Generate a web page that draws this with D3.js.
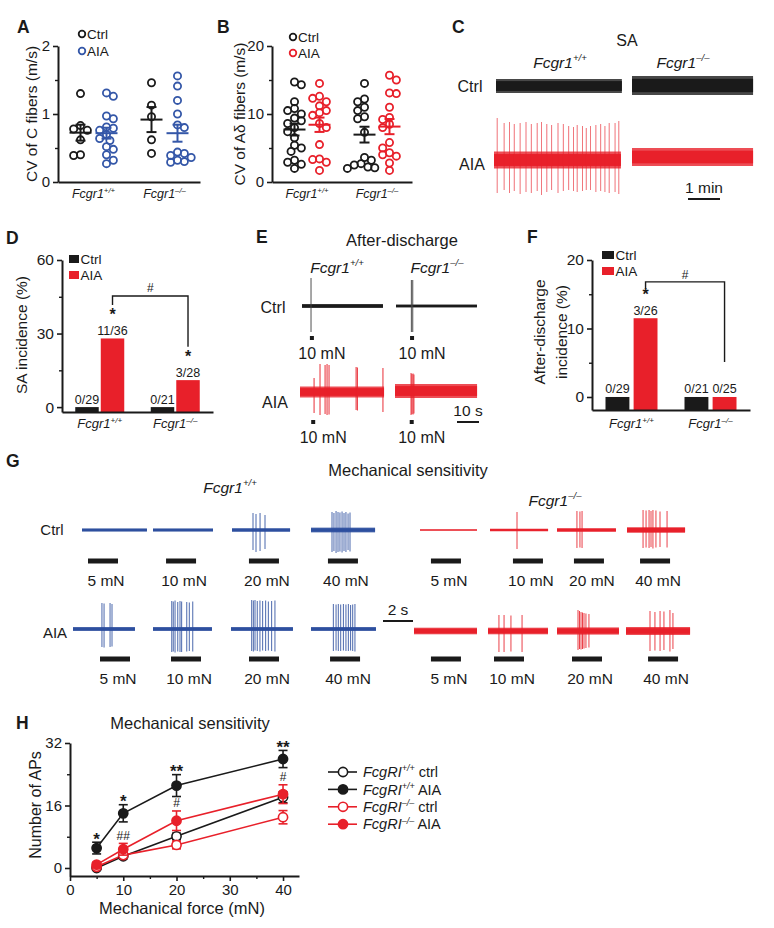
<!DOCTYPE html>
<html>
<head>
<meta charset="utf-8">
<script src="https://cdn.jsdelivr.net/npm/d3@7/dist/d3.min.js"></script>
<style>
html,body{margin:0;padding:0;background:#fff;}
svg{display:block;}
</style>
</head>
<body>
<svg id="fig" width="774" height="928"></svg>
<script>
// ======================= DATA =======================
const genotypes = ["wt", "ko"];
const geneName = "Fcgr1";
const genoSup = ["+/+", "\u2013/\u2013"];
const conditions = ["Ctrl", "AIA"];

// A: CV of C fibers (m/s)
const cvC_wt_ctrl = [1.30, 0.83, 0.78, 0.76, 0.62, 0.39, 0.40];
const cvC_wt_aia  = [1.31, 1.26, 0.97, 0.93, 0.81, 0.79, 0.76, 0.70, 0.64, 0.61, 0.52, 0.48, 0.40, 0.32, 0.27];
const cvC_ko_ctrl = [1.46, 1.13, 0.96, 0.62, 0.42];
const cvC_ko_aia  = [1.56, 1.41, 1.20, 1.00, 0.84, 0.80, 0.44, 0.42, 0.39, 0.36, 0.32, 0.30, 0.29];
const cvC_ticks = [0, 1, 2];
const cvC_minor = [0.5, 1.5];

// B: CV of A-delta fibers (m/s)
const cvAd_wt_ctrl = [14.7, 14.3, 11.8, 10.8, 10.5, 10.0, 9.4, 9.0, 8.6, 8.0, 7.4, 6.5, 5.4, 5.0, 4.5, 3.2, 2.9, 2.6, 2.0];
const cvAd_wt_aia  = [14.5, 12.6, 12.3, 11.8, 11.2, 10.5, 10.2, 9.8, 8.6, 8.0, 5.5, 3.4, 3.3, 2.9, 1.7];
const cvAd_ko_ctrl = [14.5, 12.2, 11.8, 11.0, 10.5, 9.6, 9.3, 7.3, 3.6, 3.2, 2.7, 2.5, 2.2, 2.0, 2.1];
const cvAd_ko_aia  = [15.7, 15.0, 13.1, 13.0, 11.0, 9.5, 9.2, 8.5, 8.0, 5.8, 5.0, 4.3, 4.0, 3.8, 2.8, 1.7];
const cvAd_ticks = [0, 10, 20];
const cvAd_minor = [5, 15];

// D: SA incidence (%)  order: wt Ctrl, wt AIA, ko Ctrl, ko AIA
const saIncidence = [0, 28, 0, 11];
const saCounts = ["0/29", "11/36", "0/21", "3/28"];
const saSig = ["", "*", "", "*"];
const saTicks = [0, 30, 60];
const saMinor = [15, 45];

// F: After-discharge incidence (%)
const adIncidence = [0, 11.5, 0, 0];
const adCounts = ["0/29", "3/26", "0/21", "0/25"];
const adSig = ["", "*", "", ""];
const adTicks = [0, 10, 20];
const adMinor = [5, 15];

// C: spontaneous activity traces (time s; amplitudes in uV: [t, up, down])
const cDur = [236, 227, 238, 227];           // wt ctrl, ko ctrl, wt aia, ko aia
const cNoise = [70, 95, 85, 90];
const cSpikes_wt_aia = [[6,420,330],[19,370,300],[29,380,330],[38,360,310],[49,370,340],[60,380,320],[70,360,330],[81,370,310],[89,380,350],[99,360,320],[108,350,300],[120,370,330],[130,360,310],[140,340,300],[149,330,310],[156,350,320],[166,340,310],[173,320,300],[181,340,300],[191,350,320],[200,360,310],[208,340,320],[216,370,330],[227,370,320],[234,390,340]];
const cScaleSec = 60;

// E: after-discharge traces
const eDur = [36.8, 36.8, 38.2, 37.3];
const eNoise = [20, 15, 55, 70];
const eStim = [4.5, 7.3, 6.0, 7.6];
const eSpikes_wt_ctrl = [[4.1, 280, 260]];
const eSpikes_ko_ctrl = [[7.0, 260, 260], [7.6, 260, 260]];
const eSpikes_wt_aia = [[6.4,140,210],[9.1,280,230],[11.4,270,220],[12.3,280,230],[13.2,270,225],[25.5,250,180],[26.1,245,185],[37.7,240,200]];
const eSpikes_ko_aia = [[7.3,180,240],[7.7,170,230],[8.2,175,235],[8.6,165,225]];
const eForce = 10;
const eScaleSec = 10;

// G: mechanical sensitivity sweeps
const mechForces = [5, 10, 20, 40];
const mechStimDur = 2;
const mechScaleSec = 2;
const mechOnset_wt_ctrl = [0.4, 0.87, 1.13, 1.13];
const mechOnset_ko_ctrl = [0.73, 1.53, 1.13, 0.87];
const mechOnset_wt_aia  = [1.8, 1.2, 1.2, 1.27];
const mechOnset_ko_aia  = [1.13, 0.4, 1.0, 1.47];
const mechDur_wt_ctrl = [4.33, 4.0, 3.87, 4.27];
const mechDur_ko_ctrl = [3.8, 3.87, 3.93, 3.87];
const mechDur_wt_aia  = [4.13, 3.93, 4.13, 4.33];
const mechDur_ko_aia  = [4.2, 4.0, 4.13, 4.27];
const mechNoise_wt_ctrl = [16, 16, 18, 24];
const mechNoise_ko_ctrl = [7, 13, 18, 28];
const mechNoise_wt_aia  = [20, 20, 20, 20];
const mechNoise_ko_aia  = [33, 33, 36, 40];
const mechSpikes_wt_ctrl = [[], [],
  [[1.4,170,200],[1.6,160,220],[1.87,170,210],[2.2,150,190]],
  [[1.4,180,220],[1.53,170,210],[1.67,190,230],[1.8,180,220],[1.93,175,215],[2.07,185,225],[2.2,170,210],[2.33,180,220],[2.47,165,200],[2.6,175,215]]];
const mechSpikes_ko_ctrl = [[],
  [[1.8,180,190]],
  [[1.33,190,180],[1.53,185,175],[1.67,190,180]],
  [[1.07,200,180],[1.27,195,175],[1.47,200,180],[1.6,190,170],[1.73,200,185],[1.93,195,175],[2.2,185,170],[2.67,190,175]]];
const mechSpikes_wt_aia = [
  [[1.93,260,180],[2.07,255,185],[2.47,260,180],[2.6,250,175]],
  [[1.25,280,230],[1.35,275,225],[1.47,285,235],[1.65,270,225],[1.8,280,230],[1.91,275,230],[2.25,270,225],[2.42,265,220],[2.65,275,225]],
  [[1.38,290,220],[1.49,285,225],[1.6,290,215],[1.75,280,220],[1.93,285,225],[2.11,280,215],[2.31,285,220],[2.49,275,215],[2.71,280,220],[2.93,285,225]],
  [[1.49,250,220],[1.67,245,215],[1.82,250,220],[1.98,245,220],[2.16,250,215],[2.33,245,220],[2.49,250,220],[2.64,240,215],[2.78,245,220],[2.93,250,225]]];
const mechSpikes_ko_aia = [[],
  [[0.73,160,210],[1.07,160,210],[1.53,155,205],[2.27,160,210]],
  [[1.4,210,190],[1.5,200,180],[1.6,190,185],[1.7,185,180],[1.8,180,175],[1.93,175,170],[2.13,170,165]],
  [[1.6,200,200],[1.93,190,195],[2.27,200,200],[2.53,195,190],[2.93,210,205],[3.13,180,180]]];

// H: number of APs vs force
const hForce = [5, 10, 20, 40];
const hWtCtrl = [0.0, 3.0, 8.1, 18.1], hWtCtrlErr = [0.3, 0.6, 0.8, 1.4];
const hWtAia  = [5.1, 14.0, 21.1, 27.9], hWtAiaErr = [1.5, 2.2, 2.8, 2.2];
const hKoCtrl = [0.3, 3.3, 5.9, 13.0], hKoCtrlErr = [0.4, 0.8, 1.0, 1.7];
const hKoAia  = [0.85, 4.8, 12.1, 18.9], hKoAiaErr = [0.6, 1.5, 2.5, 2.4];
const hSigStar = ["*", "*", "**", "**"];
const hSigHash = ["", "##", "#", "#"];
const hTicksY = [0, 16, 32], hMinorY = [8, 24];
const hTicksX = [0, 10, 20, 30, 40], hMinorX = [5, 15, 25, 35];

// ======================= DRAWING =======================
const FONT = '"Liberation Sans", Arial, Helvetica, sans-serif';
const INK = "#1a1a1a", RED = "#e8202a", BLUE = "#3457a8", BLUE_TR = "#2d4f9f";
const svg = d3.select("#fig").attr("font-family", FONT);

function txt(g, x, y, s, o = {}) {
  const t = g.append("text").attr("x", x).attr("y", y).text(s)
    .attr("font-size", o.size || 15)
    .attr("text-anchor", o.anchor || "middle")
    .attr("fill", o.fill || INK);
  if (o.weight) t.attr("font-weight", o.weight);
  if (o.italic) t.attr("font-style", "italic");
  return t;
}
function geneTxt(g, x, y, base, sup, size, anchor = "middle", tail = "") {
  const t = g.append("text").attr("x", x).attr("y", y).attr("font-size", size)
    .attr("text-anchor", anchor).attr("fill", INK);
  t.append("tspan").attr("font-style", "italic").text(base);
  t.append("tspan").attr("font-style", "italic").attr("font-size", size * 0.62)
    .attr("dy", -size * 0.4).text(sup);
  if (tail) t.append("tspan").attr("dy", size * 0.4).text(tail);
  return t;
}
function vtxt(g, cx, cy, s, size) {
  return g.append("text").attr("transform", `translate(${cx},${cy}) rotate(-90)`)
    .attr("text-anchor", "middle").attr("dy", "0.35em").attr("font-size", size)
    .attr("fill", INK).text(s);
}
function styleAxis(a, size) {
  a.attr("font-family", FONT).attr("font-size", size).attr("color", INK);
  a.select(".domain").attr("stroke-width", 2);
  a.selectAll(".tick line").attr("stroke-width", 1.6);
  a.selectAll(".tick text").attr("fill", INK);
}
function leftAxis(g, y, x, ticks, minor, size = 15) {
  const a = g.append("g").attr("transform", `translate(${x},0)`)
    .call(d3.axisLeft(y).tickValues(ticks).tickSize(5).tickSizeOuter(0).tickPadding(3).tickFormat(d3.format("d")));
  styleAxis(a, size);
  const m = g.append("g").attr("transform", `translate(${x},0)`)
    .call(d3.axisLeft(y).tickValues(minor).tickSize(3).tickFormat(""));
  m.select(".domain").remove();
  m.attr("color", INK).selectAll(".tick line").attr("stroke-width", 1.4);
}
function baseLine(g, x, y) {
  const a = g.append("g").attr("transform", `translate(0,${y})`)
    .call(d3.axisBottom(x).tickValues([]).tickSizeOuter(0));
  styleAxis(a, 12);
}
function panelLetter(x, y, s) { txt(svg, x, y, s, {size: 17.5, weight: "bold", anchor: "start"}); }

// ---- beeswarm layout ----
function swarm(vals, y, r) {
  const pts = vals.map(v => ({v, y: y(v), dx: 0})).sort((a, b) => a.y - b.y);
  const placed = [], step = r * 0.95, minD = 2 * r * 0.9;
  pts.forEach((p, i) => {
    for (let k = 0; k < 14; k++) {
      const cands = k === 0 ? [0] : (i % 2 ? [k * step, -k * step] : [-k * step, k * step]);
      const ok = cands.find(dx => placed.every(q => Math.hypot(q.dx - dx, q.y - p.y) >= minD));
      if (ok !== undefined) { p.dx = ok; break; }
    }
    placed.push(p);
  });
  return pts;
}
function dotPlot(g, vals, cx, y, color, r) {
  const pts = swarm(vals, y, r);
  g.append("g").selectAll("circle").data(pts).join("circle")
    .attr("cx", d => cx + d.dx).attr("cy", d => d.y).attr("r", r)
    .attr("fill", "none").attr("stroke", color).attr("stroke-width", 1.8);
  const m = d3.mean(vals), se = d3.deviation(vals) / Math.sqrt(vals.length);
  const s = g.append("g").attr("stroke", color).attr("stroke-width", 2);
  s.append("line").attr("x1", cx - 11).attr("x2", cx + 11).attr("y1", y(m)).attr("y2", y(m));
  s.append("line").attr("x1", cx).attr("x2", cx).attr("y1", y(m - se)).attr("y2", y(m + se));
  [m - se, m + se].forEach(v => s.append("line").attr("x1", cx - 5).attr("x2", cx + 5).attr("y1", y(v)).attr("y2", y(v)));
}

function scatterPanel(o) {
  const g = svg.append("g");
  const y = d3.scaleLinear().domain(o.domain).range([o.y0, o.y1]);
  const xg = d3.scaleBand().domain(genotypes).range([o.x0, o.x1]);
  const xc = d3.scalePoint().domain(conditions).range([-o.off, o.off]);
  const groups = [[o.data[0], o.data[1]], [o.data[2], o.data[3]]];
  genotypes.forEach((gk, i) => {
    const cx = xg(gk) + xg.bandwidth() / 2;
    conditions.forEach((c, j) => dotPlot(g, groups[i][j], cx + xc(c), y, j ? o.aiaColor : INK, 3.6));
    geneTxt(g, cx, o.catY, geneName, genoSup[i], 12.5);
  });
  leftAxis(g, y, o.x0, o.ticks, o.minor, 15);
  baseLine(g, xg, o.y0);
  vtxt(g, o.titleX, (o.y0 + o.y1) / 2, o.title, 15.5);
  conditions.forEach((c, j) => {
    g.append("circle").attr("cx", o.legX).attr("cy", o.legY[j]).attr("r", 3.3)
      .attr("fill", "none").attr("stroke", j ? o.aiaColor : INK).attr("stroke-width", 1.8);
    txt(g, o.legX + 5, o.legY[j] + 5, c, {size: 13.5, anchor: "start"});
  });
}

scatterPanel({domain: [0, 2], y0: 182, y1: 46, x0: 58, x1: 200, off: 13,
  data: [cvC_wt_ctrl, cvC_wt_aia, cvC_ko_ctrl, cvC_ko_aia], ticks: cvC_ticks, minor: cvC_minor,
  aiaColor: BLUE, catY: 198, title: "CV of C fibers (m/s)", titleX: 32, legX: 82, legY: [34, 51]});
scatterPanel({domain: [0, 20], y0: 182, y1: 46, x0: 272, x1: 412, off: 12.5,
  data: [cvAd_wt_ctrl, cvAd_wt_aia, cvAd_ko_ctrl, cvAd_ko_aia], ticks: cvAd_ticks, minor: cvAd_minor,
  aiaColor: RED, catY: 198, title: "CV of A\u03b4 fibers (m/s)", titleX: 240, legX: 293, legY: [37, 53]});

// ---- bar panels ----
function barPanel(o) {
  const g = svg.append("g");
  const y = d3.scaleLinear().domain([o.yMin, o.yMax]).range([o.y0, o.y1]);
  const xg = d3.scaleBand().domain(genotypes).range([o.x0, o.x1]);
  const xc = d3.scaleBand().domain(conditions).range([-o.gw / 2, o.gw / 2]).paddingInner(o.pad);
  const rows = [];
  genotypes.forEach((gk, i) => conditions.forEach((c, j) => {
    const k = i * 2 + j;
    rows.push({gk, c, v: o.values[k], n: o.counts[k], sig: o.sig[k], cx: xg(gk) + xg.bandwidth() / 2});
  }));
  g.append("g").selectAll("rect").data(rows).join("rect")
    .attr("x", d => d.cx + xc(d.c)).attr("width", xc.bandwidth())
    .attr("y", d => y(d.v)).attr("height", d => y(o.yMin) - y(d.v))
    .attr("fill", d => d.c === "Ctrl" ? INK : RED);
  rows.forEach(d => {
    d.bx = d.cx + xc(d.c) + xc.bandwidth() / 2;
    d.lab = y(d.v) - 3.5;
    txt(g, d.bx, d.lab, d.n, {size: 12.5});
    if (d.sig) { d.star = d.lab - 20; txt(g, d.bx, d.lab - 15, d.sig, {size: 16, weight: "bold"}); }
  });
  const L = rows[1], R = rows[3], by = y(o.bracketLevel);
  const rEnd = R.star !== undefined ? R.star - 10 : y(o.bracketRightEnd);
  g.append("path").attr("fill", "none").attr("stroke", INK).attr("stroke-width", 1.4)
    .attr("d", `M${L.bx},${L.star - o.legGap}V${by}H${R.bx}V${rEnd}`);
  txt(g, (L.bx + R.bx) / 2, by - o.hashUp + 4.3, "#", {size: 12});
  genotypes.forEach((gk, i) => geneTxt(g, xg(gk) + xg.bandwidth() / 2, o.catY, geneName, genoSup[i], 13));
  leftAxis(g, y, o.x0, o.ticks, o.minor, 15.5);
  baseLine(g, xg, o.y0);
  vtxt(g, o.titleX, o.titleY, o.title, 15.5);
  if (o.title2) vtxt(g, o.titleX2, o.titleY, o.title2, 15.5);
  conditions.forEach((c, j) => {
    g.append("rect").attr("x", o.legX).attr("y", o.legY[j]).attr("width", o.legW).attr("height", 8)
      .attr("fill", j ? RED : INK);
    txt(g, o.legX + o.legW + 1.5, o.legY[j] + 8.5, c, {size: 13.5, anchor: "start"});
  });
}
barPanel({yMin: -2, yMax: 60, y0: 412, y1: 260, x0: 62, x1: 213, gw: 49, pad: 0.08,
  values: saIncidence, counts: saCounts, sig: saSig, ticks: saTicks, minor: saMinor,
  bracketLevel: 45.3, legGap: 10, hashUp: 8, catY: 428,
  title: "SA incidence (%)", titleX: 22, titleY: 335, legX: 69, legY: [255, 271], legW: 10});
barPanel({yMin: -1.9, yMax: 20, y0: 410, y1: 260, x0: 592, x1: 750, gw: 52, pad: 0.15,
  values: adIncidence, counts: adCounts, sig: adSig, ticks: adTicks, minor: adMinor,
  bracketLevel: 16.8, bracketRightEnd: 5.1, legGap: 6, hashUp: 7, catY: 428,
  title: "After-discharge", title2: "incidence (%)", titleX: 540, titleX2: 562, titleY: 332,
  legX: 602, legY: [251, 267], legW: 12});

// ---- electrophysiology traces ----
function trace(g, o) {
  const x = d3.scaleLinear().domain([0, o.dur]).range([o.x0, o.x0 + o.dur * o.pps]);
  const y = d3.scaleLinear().domain([-100, 100]).range([o.y0 + 10, o.y0 - 10]); // 10 uV per px
  g.append("rect").attr("x", x(0)).attr("width", x(o.dur) - x(0))
    .attr("y", y(o.noise)).attr("height", Math.max(1, y(-o.noise) - y(o.noise)))
    .attr("fill", o.color).attr("opacity", 0.8);
  g.append("rect").attr("x", x(0)).attr("width", x(o.dur) - x(0))
    .attr("y", y(o.noise * 0.7)).attr("height", Math.max(1, y(-o.noise * 0.7) - y(o.noise * 0.7)))
    .attr("fill", o.color);
  g.append("g").selectAll("line").data(o.spikes || []).join("line")
    .attr("x1", d => x(d[0])).attr("x2", d => x(d[0]))
    .attr("y1", d => y(d[1])).attr("y2", d => y(-d[2]))
    .attr("stroke", o.spikeColor || o.color).attr("stroke-width", o.spikeW || 1)
    .attr("opacity", o.spikeOpacity === undefined ? 0.9 : o.spikeOpacity);
  return x;
}
function scaleBar(g, x0, y, sec, pps, label) {
  const x = d3.scaleLinear().domain([0, sec]).range([x0, x0 + sec * pps]);
  g.append("line").attr("x1", x(0)).attr("x2", x(sec)).attr("y1", y).attr("y2", y)
    .attr("stroke", INK).attr("stroke-width", 2);
  txt(g, (x(0) + x(sec)) / 2, y - 6, label, {size: 15.5});
}

// Panel C
{
  const g = svg.append("g");
  const pps = 32 / 60;
  txt(g, 627, 46, "SA", {size: 16});
  geneTxt(g, 560, 67.5, geneName, genoSup[0], 15.5);
  geneTxt(g, 683, 67.5, geneName, genoSup[1], 15.5);
  txt(g, 470, 91.6, "Ctrl", {size: 16});
  txt(g, 472, 169.6, "AIA", {size: 16});
  trace(g, {x0: 496, y0: 86, dur: cDur[0], pps, noise: cNoise[0], color: INK});
  trace(g, {x0: 632, y0: 85.5, dur: cDur[1], pps, noise: cNoise[1], color: INK});
  trace(g, {x0: 494, y0: 160, dur: cDur[2], pps, noise: cNoise[2], color: RED,
    spikes: cSpikes_wt_aia, spikeW: 0.9, spikeOpacity: 0.7});
  trace(g, {x0: 632, y0: 157, dur: cDur[3], pps, noise: cNoise[3], color: RED});
  scaleBar(g, 688, 199, cScaleSec, pps, "1 min");
}

// Panel E
{
  const g = svg.append("g");
  const pps = 2.2;
  txt(g, 402, 246, "After-discharge", {size: 16.5});
  geneTxt(g, 337, 272.5, geneName, genoSup[0], 15.5);
  geneTxt(g, 437, 272.5, geneName, genoSup[1], 15.5);
  txt(g, 273, 312.6, "Ctrl", {size: 16});
  txt(g, 275, 407.6, "AIA", {size: 16});
  const cfg = [
    {x0: 302, y0: 306, sp: eSpikes_wt_ctrl, color: INK, sc: "#444", my: 338},
    {x0: 396, y0: 306, sp: eSpikes_ko_ctrl, color: INK, sc: "#444", my: 338},
    {x0: 300, y0: 392, sp: eSpikes_wt_aia, color: RED, sc: RED, my: 422},
    {x0: 395, y0: 391, sp: eSpikes_ko_aia, color: RED, sc: RED, my: 422}];
  cfg.forEach((c, i) => {
    const x = trace(g, {x0: c.x0, y0: c.y0, dur: eDur[i], pps, noise: eNoise[i], color: c.color,
      spikes: c.sp, spikeColor: c.sc, spikeW: 1.1, spikeOpacity: 0.85});
    g.append("rect").attr("x", x(eStim[i]) - 2).attr("y", c.my - 2).attr("width", 4).attr("height", 4).attr("fill", INK);
    txt(g, x(eStim[i]) + 10, c.my + 20.5, `${eForce} mN`, {size: 16});
  });
  scaleBar(g, 457, 422, eScaleSec, pps, "10 s");
}

// Panel G
{
  const g = svg.append("g");
  const pps = 15;
  txt(g, 408, 476, "Mechanical sensitivity", {size: 16.5});
  geneTxt(g, 230, 492.5, geneName, genoSup[0], 15.5);
  geneTxt(g, 555, 505.5, geneName, genoSup[1], 15.5);
  txt(g, 52, 535.3, "Ctrl", {size: 15});
  txt(g, 55, 638.3, "AIA", {size: 15});
  const rows = [
    {y: 530, barY: 561, starts: [82, 153, 232, 311], on: mechOnset_wt_ctrl, dur: mechDur_wt_ctrl, noise: mechNoise_wt_ctrl, sp: mechSpikes_wt_ctrl, color: BLUE_TR},
    {y: 530, barY: 561, starts: [420, 490, 557, 627], on: mechOnset_ko_ctrl, dur: mechDur_ko_ctrl, noise: mechNoise_ko_ctrl, sp: mechSpikes_ko_ctrl, color: RED},
    {y: 629, barY: 659, starts: [73, 153, 231, 311], on: mechOnset_wt_aia, dur: mechDur_wt_aia, noise: mechNoise_wt_aia, sp: mechSpikes_wt_aia, color: BLUE_TR},
    {y: 631, barY: 659, starts: [414, 488, 557, 626], on: mechOnset_ko_aia, dur: mechDur_ko_aia, noise: mechNoise_ko_aia, sp: mechSpikes_ko_aia, color: RED}];
  rows.forEach(r => {
    mechForces.forEach((f, k) => {
      const x = trace(g, {x0: r.starts[k], y0: r.y, dur: r.dur[k], pps, noise: r.noise[k], color: r.color,
        spikes: r.sp[k], spikeW: 1, spikeOpacity: 0.85});
      g.append("rect").attr("x", x(r.on[k])).attr("width", x(r.on[k] + mechStimDur) - x(r.on[k]))
        .attr("y", r.barY - 2.5).attr("height", 5).attr("fill", INK);
      txt(g, (x(r.on[k]) + x(r.on[k] + mechStimDur)) / 2 + 3, r.barY + 24.5, `${f} mN`, {size: 15.5});
    });
  });
  scaleBar(g, 383, 621, mechScaleSec, pps, "2 s");
}

// Panel H
{
  const g = svg.append("g");
  const y = d3.scaleLinear().domain([-2.05, 32]).range([876, 743]);
  const x = d3.scaleLinear().domain([0, 43]).range([70, 299]);
  txt(g, 190, 729, "Mechanical sensitivity", {size: 16.5});
  const series = [
    {v: hWtCtrl, e: hWtCtrlErr, color: INK, filled: false, sup: genoSup[0], tail: " ctrl"},
    {v: hWtAia, e: hWtAiaErr, color: INK, filled: true, sup: genoSup[0], tail: " AIA"},
    {v: hKoCtrl, e: hKoCtrlErr, color: RED, filled: false, sup: genoSup[1], tail: " ctrl"},
    {v: hKoAia, e: hKoAiaErr, color: RED, filled: true, sup: genoSup[1], tail: " AIA"}];
  const line = d3.line().x(d => x(d[0])).y(d => y(d[1]));
  series.forEach(s => g.append("path").attr("d", line(hForce.map((f, i) => [f, s.v[i]])))
    .attr("fill", "none").attr("stroke", s.color).attr("stroke-width", 1.6));
  const drawOrder = [0, 2, 3, 1];
  drawOrder.forEach(si => {
    const s = series[si];
    hForce.forEach((f, i) => {
      const cx = x(f), lo = y(s.v[i] - s.e[i]), hi = y(s.v[i] + s.e[i]);
      const eg = g.append("g").attr("stroke", s.color).attr("stroke-width", 1.6);
      eg.append("line").attr("x1", cx).attr("x2", cx).attr("y1", lo).attr("y2", hi);
      [lo, hi].forEach(yy => eg.append("line").attr("x1", cx - 4.5).attr("x2", cx + 4.5).attr("y1", yy).attr("y2", yy));
    });
    g.append("g").selectAll("circle").data(hForce).join("circle")
      .attr("cx", f => x(f)).attr("cy", (f, i) => y(s.v[i])).attr("r", 4.6)
      .attr("fill", s.filled ? s.color : "#fff").attr("stroke", s.color).attr("stroke-width", 1.6);
  });
  hForce.forEach((f, i) => {
    const top1 = y(hWtAia[i] + hWtAiaErr[i]);
    txt(g, x(f), top1 - 7 + 9.7, hSigStar[i], {size: 17, weight: "bold"});
    if (hSigHash[i]) {
      const top2 = y(hKoAia[i] + hKoAiaErr[i]);
      txt(g, x(f), top2 - 8 + 4.3, hSigHash[i], {size: 12});
    }
  });
  leftAxis(g, y, 70, hTicksY, hMinorY, 15);
  const ax = g.append("g").attr("transform", `translate(0,${y.range()[0]})`)
    .call(d3.axisBottom(x).tickValues(hTicksX).tickSize(5).tickSizeOuter(0).tickPadding(3).tickFormat(d3.format("d")));
  styleAxis(ax, 15);
  const mx = g.append("g").attr("transform", `translate(0,${y.range()[0]})`)
    .call(d3.axisBottom(x).tickValues(hMinorX).tickSize(3).tickFormat(""));
  mx.select(".domain").remove();
  mx.attr("color", INK).selectAll(".tick line").attr("stroke-width", 1.4);
  txt(g, 182, 914, "Mechanical force (mN)", {size: 16.5});
  vtxt(g, 35, 805, "Number of APs", 16);
  series.forEach((s, i) => {
    const ly = 772 + i * 17.4;
    g.append("line").attr("x1", 328).attr("x2", 357).attr("y1", ly).attr("y2", ly)
      .attr("stroke", s.color).attr("stroke-width", 1.6);
    g.append("circle").attr("cx", 343).attr("cy", ly).attr("r", 4.6)
      .attr("fill", s.filled ? s.color : "#fff").attr("stroke", s.color).attr("stroke-width", 1.6);
    geneTxt(g, 363, ly + 5.2, "FcgRI", s.sup, 14.5, "start", s.tail);
  });
}

// panel letters
panelLetter(17, 33, "A");
panelLetter(217, 33, "B");
panelLetter(452, 33, "C");
panelLetter(6, 244, "D");
panelLetter(256, 243, "E");
panelLetter(527, 243, "F");
panelLetter(6, 467, "G");
panelLetter(16, 729, "H");
</script>
</body>
</html>
